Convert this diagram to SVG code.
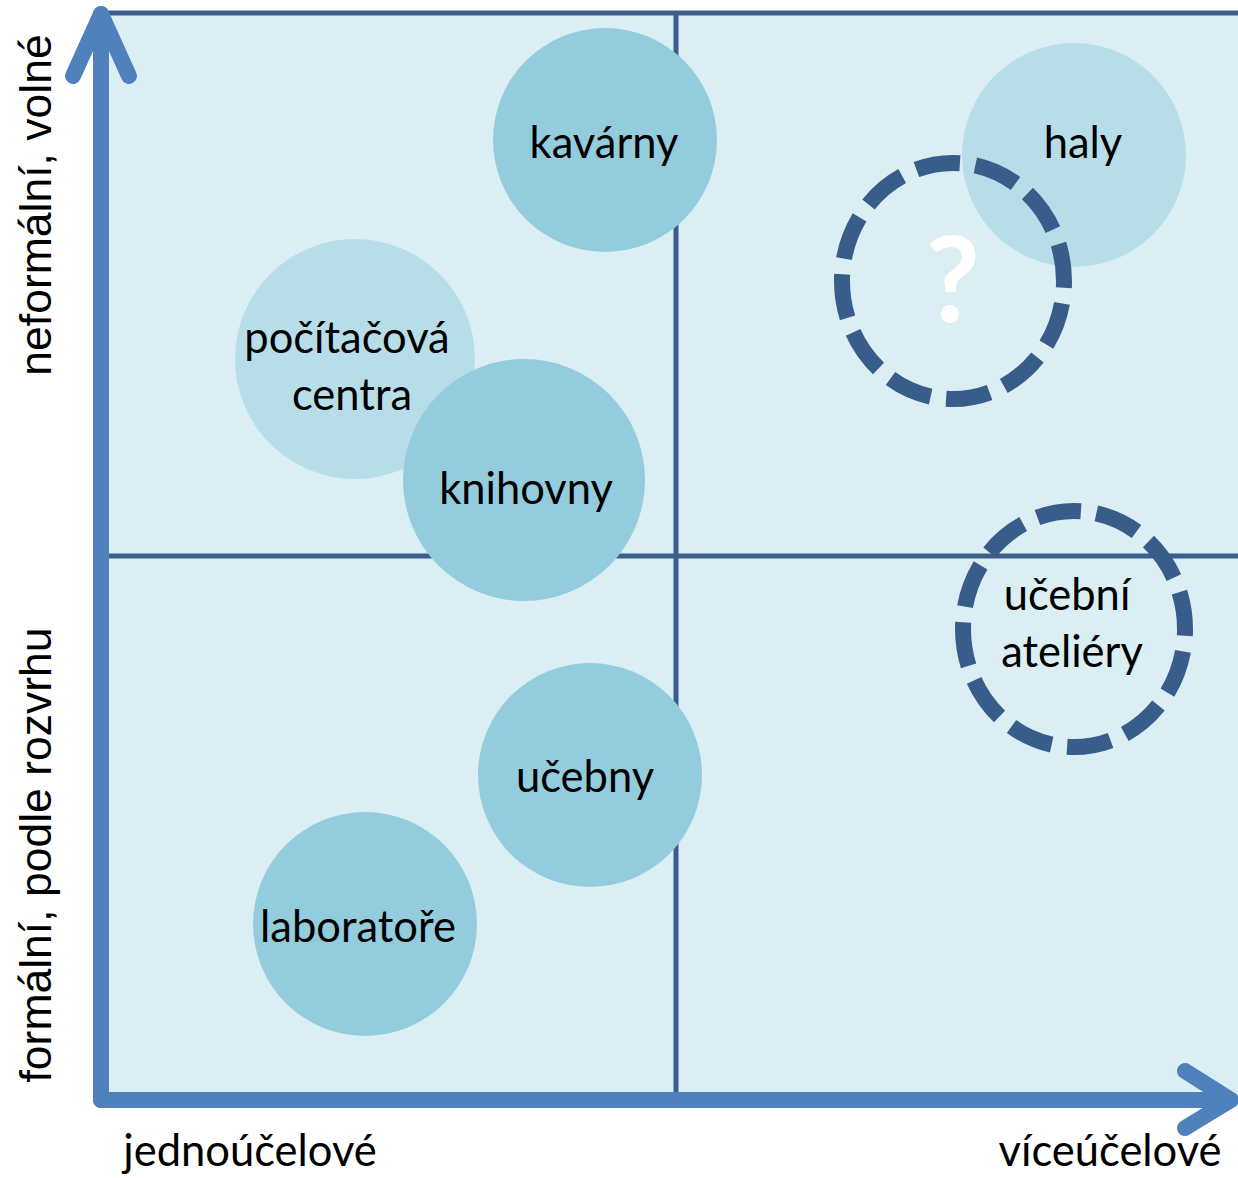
<svg xmlns="http://www.w3.org/2000/svg" width="1238" height="1178" viewBox="0 0 1238 1178">
<style>
.lbl{font-family:Lato,"Open Sans","Liberation Sans",sans-serif;font-size:43.5px;fill:#000;text-anchor:middle}
.ax{font-family:"Liberation Sans",Arial,sans-serif;font-size:44.5px;fill:#000;text-anchor:middle}
.dark{fill:#93CDDD}
.light{fill:#B7DEE8}
.grid{stroke:#3A5F8B;stroke-width:5;fill:none}
.axis{stroke:#4F81BD;stroke-width:16;fill:none;stroke-linecap:round;stroke-linejoin:round}
.dash{fill:none;stroke:#385D8A;stroke-width:16}
</style>
<rect width="1238" height="1178" fill="#FFFFFF"/>
<g id="plot">
<rect x="101" y="13" width="1137" height="1087" fill="#DBEEF4"/>
<line class="grid" x1="101" y1="13" x2="1238" y2="13"/>
<line class="grid" x1="676" y1="13" x2="676" y2="1093"/>
<line class="grid" x1="106" y1="556" x2="1238" y2="556"/>
</g>
<g id="axes">
<path class="axis" d="M101 1100 V14"/>
<path class="axis" d="M73 76 L101 14 L129 76"/>
<path class="axis" d="M101 1100 H1230"/>
<path class="axis" d="M1185 1071 L1231 1100 L1185 1128"/>
</g>
<g id="node-kavarny">
<circle class="dark" cx="605" cy="140" r="112"/>
<text class="lbl" x="604" y="158">kavárny</text>
</g>
<g id="node-haly">
<circle class="light" cx="1074" cy="155" r="112"/>
<text class="lbl" x="1083" y="158">haly</text>
</g>
<g id="node-unknown">
<ellipse class="dash" cx="953" cy="281" rx="111" ry="118" pathLength="120" stroke-dasharray="7.4 2.6" stroke-dashoffset="6.24"/>
<text x="953" y="322" font-family="Lato,'Open Sans',sans-serif" font-weight="bold" font-size="118" fill="#FFFFFF" text-anchor="middle">?</text>
</g>
<g id="node-pocitacova">
<circle class="light" cx="355" cy="359" r="120"/>
<text class="lbl" x="347" y="353">počítačová</text>
<text class="lbl" x="352" y="410">centra</text>
</g>
<g id="node-knihovny">
<circle class="dark" cx="524" cy="480" r="121"/>
<text class="lbl" x="526" y="504">knihovny</text>
</g>
<g id="node-ateliery">
<ellipse class="dash" cx="1074" cy="629" rx="111" ry="118" pathLength="120" stroke-dasharray="7.4 2.6" stroke-dashoffset="6.24"/>
<text class="lbl" x="1067" y="610">učební</text>
<text class="lbl" x="1072" y="667">ateliéry</text>
</g>
<g id="node-ucebny">
<circle class="dark" cx="590" cy="775" r="112"/>
<text class="lbl" x="585" y="792">učebny</text>
</g>
<g id="node-laboratore">
<circle class="dark" cx="365" cy="924" r="112"/>
<text class="lbl" x="358" y="942">laboratoře</text>
</g>
<g id="labels">
<text class="ax" transform="translate(51 205) rotate(-90)">neformální, volné</text>
<text class="ax" transform="translate(51 855) rotate(-90)">formální, podle rozvrhu</text>
<text class="lbl" x="250" y="1166">jednoúčelové</text>
<text class="lbl" x="1110" y="1166">víceúčelové</text>
</g>
</svg>
